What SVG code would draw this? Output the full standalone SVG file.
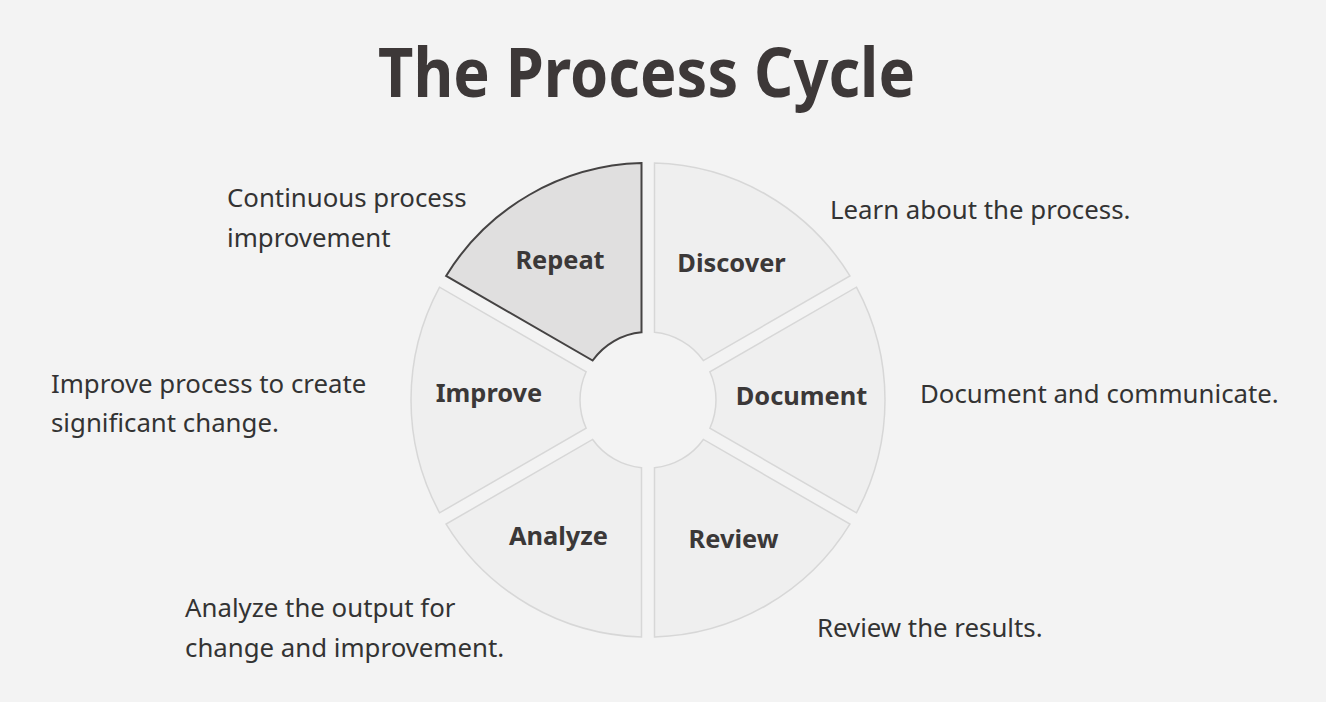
<svg xmlns="http://www.w3.org/2000/svg" width="1326" height="702" viewBox="0 0 1326 702">
<style>
.seg{fill:#efefef;stroke:#d7d7d7;stroke-width:1.5}
.seg.sel{fill:#e0dfdf;stroke:#454343;stroke-width:2}
.lbl{font-family:"Noto Sans","Liberation Sans",sans-serif;font-weight:700;font-size:25.4px;fill:#3b3838;text-anchor:middle}
.desc{font-family:"Noto Sans","Liberation Sans",sans-serif;font-size:25.8px;fill:#333333}
.title{font-family:"Noto Sans","Liberation Sans",sans-serif;font-weight:700;font-size:68px;fill:#3d3838}
</style>
<defs>
<path id="segshape" d="M641.5,163.09 A237,237 0 0 0 446.08,275.92 L592.63,360.53 A68,68 0 0 1 641.5,332.31 Z"/>
</defs>
<rect width="1326" height="702" fill="#f3f3f3"/>
<text class="title" x="378" y="97" textLength="537" lengthAdjust="spacingAndGlyphs">The Process Cycle</text>
<g id="connectors"></g>
<g id="node-discover">
<use href="#segshape" class="seg" transform="rotate(60 648 400)"/>
<text class="lbl" x="731.5" y="272">Discover</text>
</g>
<g id="node-document">
<use href="#segshape" class="seg" transform="rotate(120 648 400)"/>
<text class="lbl" x="801.5" y="405">Document</text>
</g>
<g id="node-review">
<use href="#segshape" class="seg" transform="rotate(180 648 400)"/>
<text class="lbl" x="733.5" y="548">Review</text>
</g>
<g id="node-analyze">
<use href="#segshape" class="seg" transform="rotate(240 648 400)"/>
<text class="lbl" x="558.5" y="545">Analyze</text>
</g>
<g id="node-improve">
<use href="#segshape" class="seg" transform="rotate(300 648 400)"/>
<text class="lbl" x="489" y="402">Improve</text>
</g>
<g id="node-repeat">
<use href="#segshape" class="seg sel"/>
<text class="lbl" x="560" y="269">Repeat</text>
</g>
<g id="descriptions">
<text class="desc" x="227" y="207">Continuous process</text>
<text class="desc" x="227" y="247">improvement</text>
<text class="desc" x="830" y="219">Learn about the process.</text>
<text class="desc" x="51" y="393">Improve process to create</text>
<text class="desc" x="51" y="432">significant change.</text>
<text class="desc" x="920" y="403">Document and communicate.</text>
<text class="desc" x="185" y="617">Analyze the output for</text>
<text class="desc" x="185" y="657">change and improvement.</text>
<text class="desc" x="817" y="637">Review the results.</text>
</g>
</svg>
